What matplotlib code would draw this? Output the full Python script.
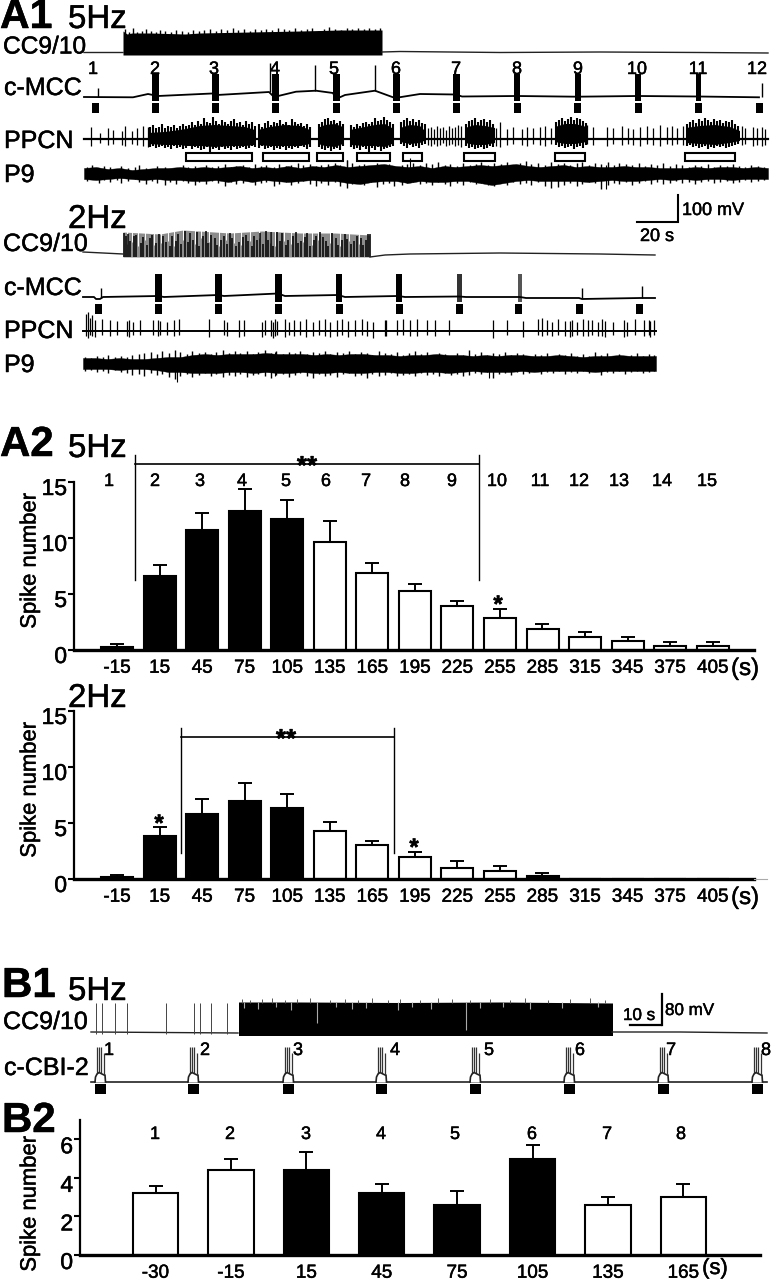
import numpy as np
import matplotlib
matplotlib.use("Agg")
import matplotlib.pyplot as plt
import matplotlib.patheffects as pe
from matplotlib.transforms import ScaledTranslation
from matplotlib.patches import Rectangle

plt.rcParams['font.family'] = ['Liberation Sans', 'DejaVu Sans']
nan = np.nan
THICK = [pe.withStroke(linewidth=0.35, foreground='k')]

# ---------- bar data ----------
times_a = ['-15','15','45','75','105','135','165','195','225','255','285','315','345','375','405']
a5_vals = [0.25,6.6,10.7,12.4,11.7,9.6,6.9,5.3,3.9,2.9,1.9,1.2,0.8,0.4,0.4]
a5_errs = [0.25,1.0,1.5,2.0,1.7,1.9,0.9,0.6,0.5,0.8,0.4,0.4,0.4,0.3,0.3]
a2_vals = [0.2,3.8,5.8,7.0,6.3,4.3,3.0,2.0,1.0,0.7,0.25,0,0,0,0]
a2_errs = [0.2,0.8,1.3,1.6,1.3,0.75,0.4,0.4,0.6,0.5,0.3,0,0,0,0]
a_fill  = ['k','k','k','k','k','w','w','w','w','w','w','w','w','w','w']
a2_fill = ['k','k','k','k','k','w','w','w','w','w','k','w','w','w','w']
a5_trial_labels = ['1','2','3','4','5','6','7','8','9','10','11','12','13','14','15']
a5_trial_x = [109,155,200,242,286,326,366,405,452,497,540,579,619,662,707]

times_b = ['-30','-15','15','45','75','105','135','165']
b_vals = [3.2,4.4,4.4,3.2,2.6,5.0,2.6,3.0]
b_errs = [0.4,0.6,0.95,0.5,0.7,0.7,0.4,0.7]
b_fill = ['w','w','k','k','k','k','w','w']
b_trial_labels = ['1','2','3','4','5','6','7','8']
b_trial_x = [155,230,306,381,455,532,607,681]

# ---------- A1 5 Hz traces (time axis in picture units) ----------
cc5_top_x = [123,127,132,150,185,200,250,300,340,382]
cc5_top_y = [31,34,33,33,34,33,32,31,30,30]
cc5_jag_x = [125,129,133,137,142,146,151,156,160,165,171,176,182,188,193,199,204,210,216,221,227,233,238,244,250,255,261,266,272,278,284,289,295,301,307,312,318,324,329,335,341,347,352,358,364,369,375,380]
cc5_jag_t = [29,32,28,32,31,29,31,32,30,31,32,30,31,32,30,31,30,29,31,29,30,28,30,29,31,29,30,29,30,28,29,30,28,30,29,28,31,29,27,29,30,28,29,28,29,28,29,28]
cc5_rest_x = [84,123,nan,382,400,500,600,700,768]
cc5_rest_y = [52.5,52.5,nan,52,51.5,52.5,52,52.5,53]

mcc5_x = [84,133,148,158,212,217,269,274,296,316,333,336,345,375,395,420,456,462,517,577,638,698,759]
mcc5_y = [97,97.3,94,96,93.5,95,92,97,91.7,90.7,93,99,95,90.7,98,94,94.5,96.5,96,96.7,96,96.5,97.3]
mcc5_burst_x = [155,215,275.5,336,396,456.5,517,577.5,638,698]
mcc5_burst_w = [7,7,7,7,7,7,6,6,6,5]
mcc5_spike_x = [98,270,315,375,762]
mcc5_spike_top = [88,63,65,65,83]
mcc5_stim_x = [95,155,215,275.5,336,396,456.5,517,577.5,638,698,759]

ppcn5_x = [148,165,180,186,200,215,230,245,255,nan,258,270,285,300,310,nan,318,325,335,343,nan,350,365,375,385,392,nan,400,410,420,424,nan,465,475,485,495,nan,555,565,575,587,nan,686,700,715,730,740]
ppcn5_t = [133,132,130,129,126,125,126,127,130,nan,130,127,125,126,130,nan,128,125,124,127,nan,130,127,125,124,128,nan,128,125,126,130,nan,128,125,126,128,nan,127,124,124,127,nan,128,126,125,127,131]
ppcn5_b = [144,145,145,146,146,147,146,146,145,nan,145,146,146,146,144,nan,144,146,147,144,nan,145,146,146,147,144,nan,142,144,143,141,nan,143,145,145,143,nan,142,144,144,142,nan,143,144,145,143,141]
ppcn5_base_x = [84,768]
ppcn5_base_y = [139,139]
ppcn5_sp_x = [91,100,108,113,122,125,132,137,143,148,428,431,434,437,440,443,446,449,452,455,458,461,496,500,507,513,522,527,533,540,545,551,587,593,607,613,622,628,633,640,647,653,660,667,672,677,683,742,745,753,757,762,765]
ppcn5_sp_t = [127,133,128,130,131,126,131,128,126,127,128,127,129,126,128,127,130,126,128,127,125,126,128,122,129,127,129,127,128,127,126,128,125,127,127,128,126,128,129,127,126,128,125,127,126,128,126,126,128,127,128,127,129]
ppcn5_sp_b = [146,143,145,144,145,146,144,145,146,147,145,146,144,146,145,143,146,145,144,146,145,147,146,147,145,144,145,146,144,145,146,144,144,145,146,144,145,144,145,146,144,145,146,144,145,144,145,145,144,146,145,146,145]
ppcn5_tall_x = [150,153,156,159,162,165,168,171,174,177,180,183,186,189,192,195,198,201,204,207,210,213,216,219,222,225,228,231,234,237,240,243,246,249,252,255,
                259,262,265,268,271,274,277,280,283,286,289,292,295,298,301,304,307,310,
                319,322,325,328,331,334,337,340,343,
                351,354,357,360,363,366,369,372,375,378,381,384,387,390,393,
                401,404,407,410,413,416,419,422,425,
                466,469,472,475,478,481,484,487,490,493,
                556,559,562,565,568,571,574,577,580,583,586,
                687,690,693,696,699,702,705,708,711,714,717,720,723,726,729,732,735,738]
ppcn5_tall_t = [127,125,128,127,124,128,126,127,125,128,126,124,126,125,122,125,121,124,118,122,123,117,121,124,120,122,124,121,119,123,122,125,121,124,122,126,
                124,127,123,121,125,122,123,120,124,122,125,119,122,124,123,126,124,127,
                124,122,119,118,121,120,123,121,124,
                125,127,124,126,123,122,124,122,118,121,120,117,120,122,124,
                122,120,118,121,119,122,120,123,124,
                124,121,120,118,122,120,119,122,120,124,
                122,120,118,121,119,117,120,118,119,121,123,
                124,122,120,123,119,121,118,120,122,119,121,120,123,121,122,120,124,126]
ppcn5_tall_b = [147,146,148,147,146,148,147,149,146,148,147,149,148,146,149,147,148,150,149,147,152,149,148,150,147,149,148,150,147,149,148,147,149,148,146,147,
                148,146,149,148,147,150,148,149,147,150,148,149,147,148,146,147,149,147,
                147,149,150,148,151,149,148,150,146,
                147,149,148,150,147,149,152,148,150,147,151,149,148,147,146,
                144,146,148,145,147,146,148,145,144,
                146,148,147,149,148,147,149,148,146,147,
                145,147,146,148,147,146,149,147,146,148,145,
                146,145,147,146,148,147,146,149,147,148,146,147,146,148,147,146,145,144]

box5_left  = [186,263,317,357,403,464,555,685]
box5_right = [252,309,343,390,422,495,585,735]

p9_5_x = np.arange(84, 769, 12)
p9_5_top = [168,167,169,168,170,169,168,168,167,168,167,168,167,166,168,167,168,166,168,166,167,165,167,166,165,164,166,167,166,168,166,167,166,165,166,165,164,166,167,166,165,167,166,167,167,166,167,167,168,168,168,167,168,167,167,168,167,168]
p9_5_bot = [179,180,179,178,179,180,179,180,180,181,181,180,182,180,182,180,181,182,181,180,181,181,183,184,182,181,181,183,181,182,182,181,181,183,185,183,181,180,181,181,181,181,182,181,180,181,181,180,179,180,179,180,179,179,180,179,179,179]
p9_5_fz_x = [87,92,99,104,110,117,121,128,135,139,146,152,157,165,170,176,183,188,195,199,206,212,218,225,231,236,243,249,255,261,266,274,279,286,291,298,303,310,316,321,328,335,340,347,352,359,364,371,377,383,389,394,402,407,413,420,426,432,438,445,450,457,463,470,476,481,488,494,501,507,513,520,526,531,538,545,551,558,564,570,577,582,589,595,601,608,614,619,626,632,639,645,651,657,663,670,676,682,689,695,701,708,714,720,727,733,739,745,751,758,764]
p9_5_fz_t = [167,165,168,166,167,169,166,168,167,165,168,169,166,167,169,168,165,167,166,168,165,167,166,164,167,166,165,167,164,166,165,167,164,166,165,163,165,164,166,165,164,163,165,160,163,165,164,166,163,165,164,166,165,164,163,165,163,164,162,165,164,166,163,165,164,162,165,163,164,162,165,163,161,164,163,165,162,164,163,165,163,162,165,163,164,162,165,163,164,165,163,166,164,165,163,166,164,165,167,165,166,164,167,165,166,164,166,167,165,166,167]
p9_5_fz_b = [181,179,183,180,182,180,183,181,179,182,184,181,183,185,182,184,181,183,185,182,184,181,183,186,182,184,183,181,185,183,182,186,184,182,185,183,181,184,186,183,185,182,186,188,184,183,185,182,187,184,183,186,185,183,182,184,183,185,182,184,186,183,185,182,184,183,185,186,183,185,182,184,183,185,182,186,188,187,185,183,186,184,182,183,189,185,183,184,182,185,183,181,184,182,184,183,181,183,182,184,182,181,183,182,181,183,182,180,182,181,180]
p9_5_sp_x = [347,606,410]
p9_5_sp_t = [160,165,158]
p9_5_sp_b = [176,189,170]

# ---------- A1 2 Hz traces ----------
cc2_rest_x = [83,123,nan,370,385,410,500,600,655]
cc2_rest_y = [252,254,nan,257,255,254,253,254,255]
cc2_top_x = [123,160,183,230,262,300,335,370]
cc2_top_y = [232,234,230,233,231,233,233,235]
cc2_spike_x = [124,125.5,128,130,134,136,141,143,147,150,152,156,159,163,166,170,172,176,178,181,185,188,190,193,197,199,203,206,207.5,211,215,217,221,224,227,230,232,236,239,243,246,248,252,254,257,260,263,266,268,271,273,277,280,282,286,288,293,296,298,301,305,307,310,314,316,320,323,326,328,332,336,338,342,345,347,351,354,357,361,363,366,368,369.5]
cc2_spike_t = [233,236,234,241,236,235,243,237,245,238,235,243,234,236,242,246,236,241,234,244,231,242,233,240,232,246,236,231,243,235,238,245,240,236,244,233,238,246,242,237,235,241,246,236,240,233,244,231,240,232,246,232,241,233,245,240,236,232,243,241,237,233,246,240,236,232,237,241,246,233,238,245,240,234,239,244,241,236,238,245,240,234,234]
cc2_gap_x = [127,132,138,145,154,161,168,174,183,195,201,209,219,226,234,241,250,259,270,275,284,291,303,312,318,330,340,349,359]
cc2_gap_b = [244,242,246,240,245,243,241,246,240,244,238,242,246,240,243,245,241,238,243,246,241,244,242,245,240,243,246,241,244]

mcc2_x = [83,94,96,100,103,158,164,218,224,278,285,338,345,398,405,459,466,520,526,579,582,640,645,655]
mcc2_y = [297,297,299,299,297,296,297,295,296,293.5,296,295,297,296,297,296.5,297,297,298,298,299,298,298,298]
mcc2_burst_x = [158.5,218,278,339,398.5,459,520]
mcc2_burst_w = [6.5,7,7,6.5,6,5,4]
mcc2_burst_c = ['k','k','k','k','k','#333333','#555555']
mcc2_spike_x = [101,582,642]
mcc2_spike_top = [288,288,286]
mcc2_stim_x = [98,158,218,278,339,399,459,518,579,639]

ppcn2_sp_x = [86,88,90,92,95,102,110,117,127,128.5,133,140,153,158,160,167,174,179,209,224,227,239,244,262,265,271,273,275,277,285,289,294,300,306,313,319,325,330,337,342,348,355,362,367,373,385,397,385.5,403,410,417,427,435,449,493,507,523,538,542,547,552,558,565,570,571.5,577,583,588,592,598,602,605,613,624,627,635,644,649,650,654]
ppcn2_sp_t = [314,312,318,315,320,319,320,321,321,320,322,320,320,320,321,322,320,319,319,320,322,320,320,322,320,320,322,319,321,319,322,320,321,319,322,320,319,322,320,319,321,320,319,321,322,320,320,320,319,320,319,320,320,320,320,320,321,319,318,320,322,319,321,321,320,322,319,320,320,322,319,321,322,320,322,319,320,320,321,320]
ppcn2_sp_b = [336,338,335,336,337,335,336,335,336,337,335,335,335,336,335,335,336,335,337,335,336,337,336,337,335,336,338,336,335,337,335,336,335,337,336,335,336,337,336,335,337,336,335,336,338,336,335,336,335,336,336,335,336,335,338,335,337,335,336,335,336,335,336,337,336,335,336,336,335,336,336,337,335,337,336,335,336,335,337,335]

p9_2_x = np.linspace(83, 656, 48)
p9_2_top = [358,358,359,358,359,359,358,357,357,355,354,355,354,354,354,353,354,354,354,355,354,355,354,354,355,355,356,355,355,354,355,355,356,355,356,355,355,356,356,355,356,357,356,356,355,356,356,356]
p9_2_bot = [369,369,369,370,369,369,370,372,372,373,373,373,372,372,373,372,373,373,372,373,373,372,373,373,372,372,373,373,372,372,373,372,371,372,372,372,371,372,371,371,371,371,372,371,371,371,371,371]
p9_2_fz_x = [85,91,97,103,108,115,121,127,132,139,144,151,157,162,169,175,180,187,192,199,205,211,216,223,229,235,240,247,253,258,265,271,276,283,289,295,300,307,313,319,325,330,337,343,349,355,361,367,372,379,385,391,397,403,409,415,421,427,433,439,445,451,457,463,469,475,481,487,493,499,505,511,517,523,529,535,541,547,553,559,565,571,577,583,589,595,601,607,613,619,625,631,637,643,649,654]
p9_2_fz_t = [357,358,356,357,355,357,356,357,355,354,353,352,354,351,353,350,352,354,351,353,352,354,352,350,353,351,353,351,354,352,350,353,351,354,352,353,351,354,352,353,351,354,352,353,351,354,352,353,355,351,353,354,352,355,353,351,354,352,355,353,354,356,353,355,350,354,352,355,353,354,352,355,353,354,356,354,355,353,356,354,355,353,356,354,356,352,355,353,356,354,356,355,353,356,354,355]
p9_2_fz_b = [371,370,372,371,373,370,372,373,375,374,376,373,375,374,377,379,376,374,377,375,373,376,374,377,375,376,374,377,375,374,376,378,375,374,377,375,373,376,378,374,376,375,377,374,373,376,375,378,374,376,375,373,376,375,374,376,373,375,374,376,373,375,374,376,375,373,374,372,378,374,373,375,372,374,373,371,374,372,373,371,374,372,373,371,373,371,375,372,373,371,374,372,371,373,372,371]
p9_2_sp_x = [177,489,275]
p9_2_sp_t = [360,360,352]
p9_2_sp_b = [382,378,376]

# ---------- B1 traces ----------
ccb_rest_x = [91,238,nan,612,680,767]
ccb_rest_y = [1032,1033,nan,1032,1032,1033]
ccb_pre_x = [95.7,101.7,115,127,165.7,194,199.7,211,227.3]
ccb_pre_top = [1003,1003,1003,1003,1003,1003,1003,1003,1003]
ccb_top_x = [238.5,300,400,500,612.5]
ccb_top_y = [1002,1002,1002.5,1002,1003]
ccb_tall_x = [242,250,262,272,285,297,310,330,345,358,372,388,400,420,438,452,470,490,510,525,548,570,590,605]
ccb_tall_t = [999,1000,999,998,1000,999,998,1000,999,1000,998,1000,999,1000,998,999,1000,999,1000,998,1000,999,998,1000]
ccb_gap_x = [244,258,276,291,317,336,352,366,398,412,431,466,480,503,530,562,598]
ccb_gap_b = [1008,1009,1007,1010,1023,1007,1009,1008,1010,1007,1009,1030,1008,1007,1009,1008,1007]

cbi_rest_x = [91,767]
cbi_rest_y = [1082,1082]
cbi_stim_x = [100,193,288,381,475,569,663,757]
cbi_hump_dx = [-5,-4.5,-3,-1,2,4,5,5.5]
cbi_hump_dy = [0,-5,-8,-9.5,-8,-7,-7,0]
cbi_spike_dx = [-3,-1,1,3.5]
cbi_spike_top = [1047,1047,1047,1053]
cbi_num_x = [109,205,298,395,489,580,671,766]

# ---------- figure ----------
W, H = 771, 1280
fig = plt.figure(figsize=(W/100, H/100), dpi=100, facecolor='w')

def pxaxes(l, t, r, b):
    return fig.add_axes([l/W, 1-b/H, (r-l)/W, (b-t)/H])

def bar_panel(box, first, step, width, vals, errs, fills, ylim, yticks, labels, xfs, tickfs, lab_dy):
    l, t, r, b = box
    ax = pxaxes(l, t, r, b)
    ax.patch.set_alpha(0)
    x = np.arange(len(vals))
    ax.set_xlim((l-first)/step, (r-first)/step)
    ax.set_ylim(*ylim)
    ax.bar(x, vals, width=width/step, color=fills, edgecolor='k', linewidth=1.5, zorder=2)
    ev = np.array(vals)
    er = np.array(errs)
    m = er > 0
    ax.errorbar(x[m], ev[m], yerr=[np.zeros(m.sum()), er[m]], fmt='none', ecolor='k',
                elinewidth=1.4, capsize=5, capthick=1.4, zorder=1)
    for s in ('top', 'right'):
        ax.spines[s].set_visible(False)
    ax.spines['left'].set_linewidth(1.6)
    ax.spines['bottom'].set_linewidth(2.4)
    ax.set_yticks(yticks)
    ax.set_yticklabels([str(v) for v in yticks], fontsize=tickfs)
    ax.set_xticks(x)
    ax.set_xticklabels(labels, fontsize=xfs)
    ax.tick_params(axis='x', length=0, pad=7)
    ax.tick_params(axis='y', length=4, width=1.5, pad=1)
    off = ScaledTranslation(0, -lab_dy/100, fig.dpi_scale_trans)
    for lb in ax.get_yticklabels():
        lb.set_transform(lb.get_transform() + off)
        lb.set_path_effects(THICK)
    for lb in ax.get_xticklabels():
        lb.set_path_effects(THICK)
    return ax

ax_a5 = bar_panel((74, 482, 754, 650), 117, 42.55, 32, a5_vals, a5_errs, a_fill, (0, 15), [0,5,10,15], times_a, 13.6, 16.5, 4)
ax_a2 = bar_panel((74, 711, 754, 879), 117, 42.55, 32, a2_vals, a2_errs, a2_fill, (0, 15), [0,5,10,15], times_a, 13.6, 16.5, 4)
ax_b = bar_panel((80, 1120, 760, 1255), 155.5, 75.4, 45.5, b_vals, b_errs, b_fill, (0, 7), [0,2,4,6], times_b, 13.6, 16.5, 5)

ov = fig.add_axes([0, 0, 1, 1])
ov.set_xlim(0, W)
ov.set_ylim(H, 0)
ov.axis('off')
ov.patch.set_alpha(0)

def T(x, y, s, px, **kw):
    kw.setdefault('ha', 'left')
    kw.setdefault('va', 'baseline')
    ov.text(x, y, s, fontsize=px*0.72, color='k', path_effects=THICK, **kw)

def spikes(x, t, b, c='k', lw=0.8):
    ov.vlines(x, t, b, colors=c, linewidth=lw)

# --- A1 5 Hz ---
T(0, 28, 'A1', 41, fontweight='bold')
T(68, 28, '5Hz', 33)
T(3, 53.5, 'CC9/10', 24.5)
T(4, 95, 'c-MCC', 25)
T(4, 148, 'PPCN', 25)
T(4, 182, 'P9', 25)
ov.fill_between(cc5_top_x, cc5_top_y, 55, color='k', lw=0)
spikes(cc5_jag_x, cc5_jag_t, 36, lw=1.0)
ov.plot(cc5_rest_x, cc5_rest_y, color='#222222', lw=1.0)
ov.plot(mcc5_x, mcc5_y, color='k', lw=1.3)
for x, w in zip(mcc5_burst_x, mcc5_burst_w):
    ov.add_patch(Rectangle((x-w/2, 74), w, 27, color='k', lw=0))
spikes(mcc5_spike_x, mcc5_spike_top, [97, 92, 91, 91, 97], lw=1)
for x in mcc5_stim_x:
    ov.add_patch(Rectangle((x-3.5, 103), 7, 10, color='k', lw=0))
for i, x in enumerate([93,155,214,275,334,396,456,517,578,637,698,757]):
    T(x, 74, str(i+1), 18, ha='center')
ov.plot(ppcn5_base_x, ppcn5_base_y, color='k', lw=1.6)
ov.fill_between(ppcn5_x, ppcn5_t, ppcn5_b, color='k', lw=0)
spikes(ppcn5_sp_x, ppcn5_sp_t, ppcn5_sp_b, lw=0.9)
spikes(ppcn5_tall_x, ppcn5_tall_t, ppcn5_tall_b, lw=1.5)
for l, r in zip(box5_left, box5_right):
    ov.add_patch(Rectangle((l, 152.5), r-l, 8, fc='w', ec='k', lw=1.5))
ov.fill_between(p9_5_x, p9_5_top, p9_5_bot, color='k', lw=0.3)
spikes(p9_5_fz_x, p9_5_fz_t, p9_5_fz_b, lw=1.0)
spikes(p9_5_sp_x, p9_5_sp_t, p9_5_sp_b)

# --- A1 2 Hz ---
T(68, 228, '2Hz', 33)
T(3, 251, 'CC9/10', 25)
T(4, 295, 'c-MCC', 25)
T(4, 338, 'PPCN', 25)
T(4, 372, 'P9', 25)
ov.fill_between(cc2_top_x, cc2_top_y, 257, color='#8c8c8c', lw=0)
spikes(cc2_gap_x, 229, cc2_gap_b, c='w', lw=0.7)
spikes(cc2_spike_x, cc2_spike_t, 257, lw=1.1)
ov.plot(cc2_rest_x, cc2_rest_y, color='#222222', lw=1.0)
ov.plot(mcc2_x, mcc2_y, color='k', lw=1.3)
for x, w, c in zip(mcc2_burst_x, mcc2_burst_w, mcc2_burst_c):
    ov.add_patch(Rectangle((x-w/2, 274), w, 28, color=c, lw=0))
spikes(mcc2_spike_x, mcc2_spike_top, 298, lw=1)
for x in mcc2_stim_x:
    ov.add_patch(Rectangle((x-3.5, 304), 7, 10, color='k', lw=0))
ov.plot([83, 656], [331, 331], color='k', lw=1.4)
spikes(ppcn2_sp_x, ppcn2_sp_t, ppcn2_sp_b, lw=0.9)
ov.fill_between(p9_2_x, p9_2_top, p9_2_bot, color='k', lw=0.3)
spikes(p9_2_fz_x, p9_2_fz_t, p9_2_fz_b, lw=1.0)
spikes(p9_2_sp_x, p9_2_sp_t, p9_2_sp_b)
ov.plot([637, 678, 678], [222, 222, 195], color='k', lw=1.5, solid_joinstyle='miter')
T(682, 215, '100 mV', 18)
T(640, 241, '20 s', 18)

# --- A2 ---
T(0, 456, 'A2', 42, fontweight='bold')
T(68, 457, '5Hz', 33)
T(68, 707, '2Hz', 33)
T(30, 561, 'Spike number', 22, rotation=90, ha='center', va='center')
T(30, 790, 'Spike number', 22, rotation=90, ha='center', va='center')
for x, s in zip(a5_trial_x, a5_trial_labels):
    T(x, 486, s, 18, ha='center')
ov.plot([134.5, 134.5], [455, 580], color='k', lw=1)
ov.plot([134.5, 479], [464, 464], color='k', lw=1.2)
ov.plot([479, 479], [455, 580], color='k', lw=1)
T(307, 474, '**', 26, ha='center', fontweight='bold')
T(498, 612, '*', 24, ha='center', fontweight='bold')
T(745, 675, '(s)', 24, ha='center')
ov.plot([181, 181], [728, 853], color='k', lw=1)
ov.plot([181, 394], [737, 737], color='k', lw=1.2)
ov.plot([394, 394], [728, 853], color='k', lw=1)
T(286, 747, '**', 26, ha='center', fontweight='bold')
T(159, 831, '*', 24, ha='center', fontweight='bold')
T(414, 855, '*', 24, ha='center', fontweight='bold')
T(745, 904, '(s)', 24, ha='center')
ov.plot([754, 767], [879, 879], color='#aaaaaa', lw=0.8)

# --- B1 ---
T(2, 997, 'B1', 42, fontweight='bold')
T(68, 1000, '5Hz', 33)
T(3, 1029, 'CC9/10', 25)
T(4, 1075, 'c-CBI-2', 25)
ov.fill_between(ccb_top_x, ccb_top_y, 1035.5, color='k', lw=0)
spikes(ccb_tall_x, ccb_tall_t, 1003, c='#555555', lw=0.7)
spikes(ccb_gap_x, 1002, ccb_gap_b, c='#aaaaaa', lw=0.8)
ov.plot(ccb_rest_x, ccb_rest_y, color='#222222', lw=1.0)
spikes(ccb_pre_x, ccb_pre_top, 1034, c='#444444', lw=0.7)
ov.plot(cbi_rest_x, cbi_rest_y, color='#222222', lw=1.2)
for x in cbi_stim_x:
    ov.fill_between([x+d for d in cbi_hump_dx], [1082+d for d in cbi_hump_dy], 1082, color='w', lw=0, zorder=3)
    ov.plot([x+d for d in cbi_hump_dx], [1082+d for d in cbi_hump_dy], color='#222222', lw=1.2, zorder=4)
    spikes([x+d for d in cbi_spike_dx], cbi_spike_top, 1074, c='#333333', lw=0.9)
    ov.add_patch(Rectangle((x-5.5, 1084), 11, 10, color='k', lw=0))
for i, x in enumerate(cbi_num_x):
    T(x, 1055, str(i+1), 18, ha='center')
ov.plot([630, 661], [1025, 1025], color='k', lw=1.6)
ov.plot([662, 662], [994, 1025], color='k', lw=1.6)
T(623, 1020, '10 s', 17)
T(665, 1015, '80 mV', 17)

# --- B2 ---
T(2, 1132, 'B2', 42, fontweight='bold')
T(30, 1204, 'Spike number', 22, rotation=90, ha='center', va='center')
for x, s in zip(b_trial_x, b_trial_labels):
    T(x, 1139, s, 18, ha='center')
T(715, 1274, '(s)', 22, ha='center')

fig.savefig('out.png', dpi=100)
